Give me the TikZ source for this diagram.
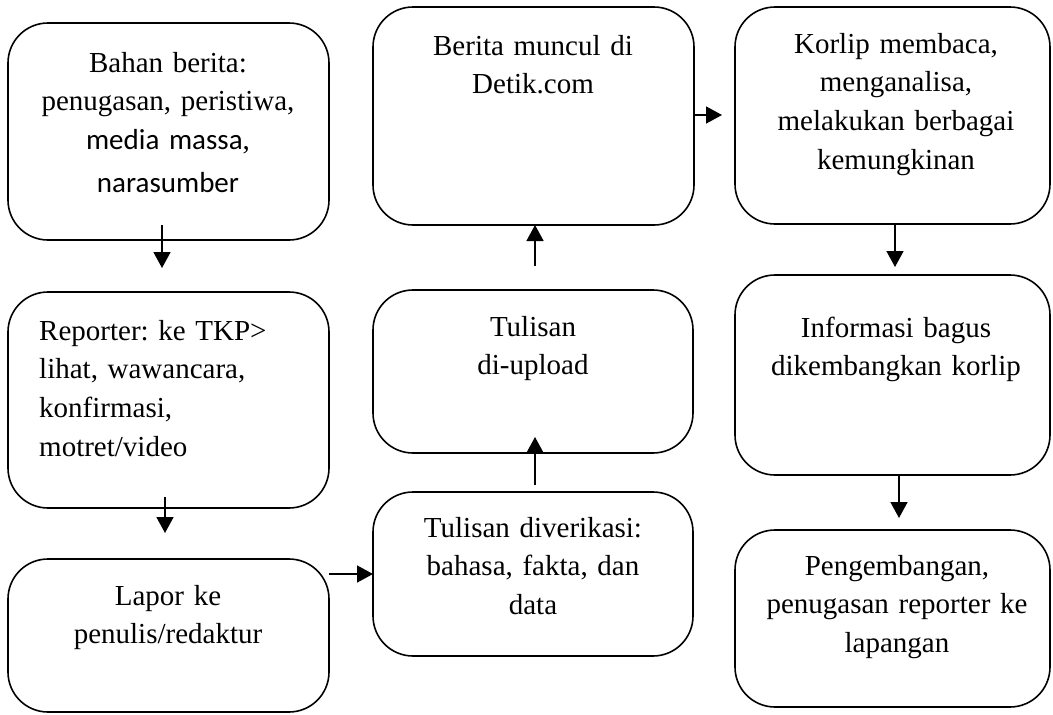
\documentclass[tikz,border=0pt]{standalone}
\usepackage{fontspec}
\setmainfont{Liberation Serif}
\newfontfamily\calfont{Carlito}
\usetikzlibrary{arrows.meta}
\frenchspacing
\begin{document}
\begin{tikzpicture}[x=1pt,y=-1pt,
  box/.style={draw, line width=1.6pt, rounded corners=40pt, fill=white, inner sep=0pt},
  txt/.style={font=\fontsize{29}{38.7}\selectfont\frenchspacing, inner sep=0pt, text width=312pt, align=center, anchor=base},
  ltxt/.style={font=\fontsize{29}{38.7}\selectfont\frenchspacing, inner sep=0pt, text width=285pt, align=left, anchor=base west},
  arr/.style={-{Triangle[length=16pt,width=17pt]}, line width=1.6pt}]
\useasboundingbox (0,0) rectangle (1053,715);
% boxes
\node[box, minimum width=321pt, minimum height=217pt] (b1) at (168.5,131.5) {};
\node[box, minimum width=321pt, minimum height=216pt] (b2) at (168.5,400) {};
\node[box, minimum width=321pt, minimum height=153pt] (b3) at (168.5,635.5) {};
\node[box, minimum width=320pt, minimum height=164pt] (b4) at (533,574) {};
\node[box, minimum width=320pt, minimum height=163pt] (b5) at (533,371.5) {};
\node[box, minimum width=321pt, minimum height=218pt] (b6) at (533.5,116) {};
\node[box, minimum width=315pt, minimum height=217pt] (b7) at (892.5,115.5) {};
\node[box, minimum width=315pt, minimum height=200pt] (b8) at (892.5,375) {};
\node[box, minimum width=315pt, minimum height=177pt] (b9) at (892.5,618.5) {};
% texts
\node[txt] (t1) at (168,72) {Bahan berita:\\penugasan, peristiwa,\\{\calfont media massa},\\[4pt]{\calfont narasumber}};
\node[ltxt] (t2) at (39,340) {Reporter: ke TKP>\\lihat, wawancara,\\konfirmasi,\\motret/video};
\node[txt] (t3) at (168,605) {Lapor ke\\penulis/redaktur};
\node[txt] (t4) at (533,537) {Tulisan diverikasi:\\bahasa, fakta, dan\\data};
\node[txt] (t5) at (533,336) {Tulisan\\di-upload};
\node[txt] (t6) at (533,55) {Berita muncul di\\Detik.com};
\node[txt] (t7) at (896,53) {Korlip membaca,\\menganalisa,\\melakukan berbagai\\kemungkinan};
\node[txt] (t8) at (896,337) {Informasi bagus\\dikembangkan korlip};
\node[txt] (t9) at (897,575) {Pengembangan,\\penugasan reporter ke\\lapangan};
% arrow end points
\coordinate (a1s) at (162,225); \coordinate (a1e) at (162,268);
\coordinate (a2s) at (165,497); \coordinate (a2e) at (165,533);
\coordinate (a3s) at (329,574); \coordinate (a3e) at (373,574);
\coordinate (a4s) at (535,485); \coordinate (a4e) at (535,437);
\coordinate (a5s) at (535,266); \coordinate (a5e) at (535,225);
\coordinate (a6s) at (694,115); \coordinate (a6e) at (722,115);
\coordinate (a7s) at (895,224); \coordinate (a7e) at (895,267);
\coordinate (a8s) at (899,475); \coordinate (a8e) at (899,518);
\draw[arr] (a1s) -- (a1e);
\draw[arr] (a2s) -- (a2e);
\draw[arr] (a3s) -- (a3e);
\draw[arr] (a4s) -- (a4e);
\draw[arr] (a5s) -- (a5e);
\draw[arr] (a6s) -- (a6e);
\draw[arr] (a7s) -- (a7e);
\draw[arr] (a8s) -- (a8e);
\end{tikzpicture}
\end{document}
